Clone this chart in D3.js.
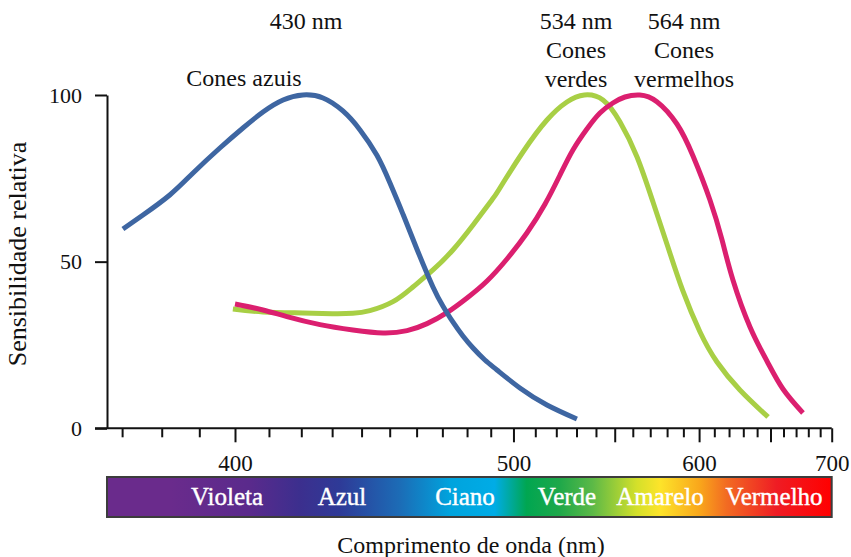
<!DOCTYPE html>
<html>
<head>
<meta charset="utf-8">
<script src="https://cdn.jsdelivr.net/npm/d3@7"></script>
<style>
  html, body { margin: 0; padding: 0; background: #fff; }
  svg { display: block; }
  text { font-family: "Liberation Serif", "Times New Roman", serif; fill: #111; }
</style>
</head>
<body>
<svg id="chart" width="851" height="557"></svg>
<script>
// Cone sensitivity curves: [wavelength (nm), relative sensitivity (%)]
const blueCones = [
  [370.2, 59.8], [375.2, 64.0], [382.1, 70.0], [388.3, 76.6], [395.7, 84.1],
  [402.3, 90.1], [408.2, 94.9], [414.3, 98.5], [420.5, 100.0], [427.0, 99.1],
  [433.6, 95.2], [439.4, 89.6], [445.4, 81.9], [450.1, 73.6], [454.9, 64.2],
  [460.1, 53.8], [466.3, 42.4], [470.2, 36.7], [474.2, 31.9], [478.3, 27.7],
  [482.5, 24.1], [487.5, 20.5], [492.7, 17.5], [502.9, 12.1], [515.5, 7.0],
  [530.2, 2.8]
];
const greenCones = [
  [399.4, 35.8], [408.2, 34.9], [420.5, 34.6], [430.0, 34.4], [437.0, 34.5],
  [442.9, 35.3], [451.2, 38.0], [458.6, 42.4], [466.3, 47.5], [474.2, 53.5],
  [482.5, 61.0], [490.5, 68.5], [494.0, 72.1], [504.3, 82.9], [515.5, 92.5],
  [525.2, 97.9], [534.0, 100.0], [543.7, 98.5], [552.9, 91.9], [562.4, 81.4],
  [571.6, 67.9], [580.5, 54.4], [589.7, 41.2], [600.6, 28.9], [611.8, 19.9],
  [627.6, 11.5], [648.1, 3.4]
];
const redCones = [
  [400.0, 37.3], [408.2, 35.5], [415.5, 33.5], [426.0, 31.1], [437.0, 29.5],
  [447.6, 28.6], [456.4, 29.3], [464.0, 31.4], [471.8, 34.7], [480.0, 39.1],
  [488.4, 44.2], [497.1, 50.8], [506.1, 58.6], [514.6, 67.3], [521.8, 76.0],
  [528.2, 83.5], [535.3, 89.8], [542.1, 94.6], [549.0, 97.6], [555.6, 99.4],
  [564.0, 100.0], [573.9, 98.0], [586.0, 91.3], [596.1, 81.7], [607.1, 68.5],
  [615.2, 56.5], [622.7, 44.5], [634.8, 30.4], [647.3, 20.2], [659.6, 11.8],
  [675.6, 4.6]
];

// Axis ticks
const majorTicks = [400, 500, 600, 700];
const longTicks = [550, 650];
const minorTicks = d3.range(370, 701, 10);
const yTicks = [0, 50, 100];

// Peak annotations
const peakWavelengths = [430, 534, 564];
const peakNames = [[], ["Cones", "verdes"], ["Cones", "vermelhos"]];
const peakLabelX = [306, 576, 684];

// Colour band underneath the axis
const bandNames = ["Violeta", "Azul", "Ciano", "Verde", "Amarelo", "Vermelho"];
const bandCenters = [227, 342, 465, 567, 660, 774];
const bandStops = [
  [0.000, "#6a2b8c"], [0.087, "#6a2b8c"], [0.197, "#5a2a8c"], [0.266, "#3c2f8e"],
  [0.321, "#2e3a97"], [0.404, "#1c6cb6"], [0.473, "#00a3dd"], [0.535, "#00ace6"],
  [0.579, "#00a651"], [0.625, "#1fa84a"], [0.670, "#5cb947"], [0.731, "#d4e02a"],
  [0.763, "#fde42a"], [0.818, "#f9a61b"], [0.855, "#f26b22"], [0.924, "#ef1c24"],
  [1.000, "#ff0000"]
];

const svg = d3.select("#chart");

// Horizontal scale is linear in 1/wavelength (energy), so spacing shrinks toward red
const invScale = d3.scaleLinear().domain([1 / 400, 1 / 700]).range([235, 831.7]);
const x = nm => invScale(1 / nm);
const y = d3.scaleLinear().domain([0, 100]).range([428.3, 95]);

const baseY = y(0);
const axisLeft = 107;

// x axis: base line, minor, long and major ticks
const gx = svg.append("g");
gx.append("line")
  .attr("x1", 95).attr("x2", x(700)).attr("y1", baseY).attr("y2", baseY)
  .attr("stroke", "#111").attr("stroke-width", 2);

const styleTicks = g => g.call(s => s.select(".domain").remove())
  .call(s => s.selectAll("line").attr("stroke", "#111").attr("stroke-width", 2));

const xAxisMinor = d3.axisBottom(d3.scaleIdentity())
  .tickValues(minorTicks.filter(t => !majorTicks.includes(t) && !longTicks.includes(t)).map(x))
  .tickSize(9).tickSizeOuter(0).tickFormat("");
gx.append("g").attr("transform", `translate(0,${baseY})`).call(xAxisMinor).call(styleTicks);

const xAxisLong = d3.axisBottom(d3.scaleIdentity())
  .tickValues(longTicks.map(x)).tickSize(14).tickSizeOuter(0).tickFormat("");
gx.append("g").attr("transform", `translate(0,${baseY})`).call(xAxisLong).call(styleTicks);

const xAxisMajor = d3.axisBottom(d3.scaleIdentity())
  .tickValues(majorTicks.map(x)).tickSize(14).tickSizeOuter(0)
  .tickFormat((d, i) => majorTicks[i]);
gx.append("g").attr("transform", `translate(0,${baseY})`).call(xAxisMajor).call(styleTicks)
  .call(g => g.selectAll("text")
    .attr("y", 0).attr("dy", null)
    .attr("transform", "translate(0,43)")
    .attr("font-size", 23).attr("fill", "#111")
    .style("font-family", "'Liberation Serif', serif"));

// y axis
const yAxis = d3.axisLeft(y).tickValues(yTicks).tickSize(12).tickSizeOuter(0).tickPadding(13);
svg.append("g").attr("transform", `translate(${axisLeft},0)`).call(yAxis)
  .call(g => g.select(".domain").attr("stroke", "#111").attr("stroke-width", 2))
  .call(g => g.selectAll("line").attr("stroke", "#111").attr("stroke-width", 2))
  .call(g => g.selectAll("text")
    .attr("font-size", 22).attr("fill", "#111")
    .style("font-family", "'Liberation Serif', serif"));

// Curves
const line = d3.line().x(d => x(d[0])).y(d => y(d[1])).curve(d3.curveNatural);
const series = [
  { data: greenCones, color: "#a8cf45" },
  { data: redCones, color: "#db1f6f" },
  { data: blueCones, color: "#3e66a2" }
];
svg.append("g").selectAll("path").data(series).join("path")
  .attr("d", d => line(d.data))
  .attr("fill", "none")
  .attr("stroke", d => d.color)
  .attr("stroke-width", 5)
  .attr("stroke-linecap", "butt");

// Annotations
const ann = svg.append("g").attr("font-size", 24).attr("text-anchor", "middle");
peakWavelengths.forEach((nm, k) => {
  [`${nm} nm`, ...peakNames[k]].forEach((t, i) => {
    ann.append("text").attr("x", peakLabelX[k]).attr("y", 29 + i * 29).text(t);
  });
});
ann.append("text").attr("x", 244).attr("y", 86).text("Cones azuis");

// Spectrum band
const defs = svg.append("defs");
const grad = defs.append("linearGradient").attr("id", "spectrum")
  .attr("x1", "0%").attr("x2", "100%").attr("y1", "0%").attr("y2", "0%");
grad.selectAll("stop").data(bandStops).join("stop")
  .attr("offset", d => d[0]).attr("stop-color", d => d[1]);

svg.append("rect")
  .attr("x", axisLeft).attr("y", 477).attr("width", x(700) - axisLeft).attr("height", 40)
  .attr("fill", "url(#spectrum)")
  .attr("stroke", "#3c3c3c").attr("stroke-width", 2);

svg.append("g").attr("font-size", 25).attr("text-anchor", "middle")
  .selectAll("text").data(bandNames).join("text")
  .attr("x", (d, i) => bandCenters[i]).attr("y", 505)
  .style("fill", "#fff")
  .style("stroke", "#fff").style("stroke-width", 0.4)
  .text(d => d);

// Axis titles
svg.append("text").attr("x", 471).attr("y", 553).attr("text-anchor", "middle")
  .attr("font-size", 24).text("Comprimento de onda (nm)");
svg.append("text").attr("transform", "translate(26,254) rotate(-90)")
  .attr("text-anchor", "middle").attr("font-size", 26).text("Sensibilidade relativa");
</script>
</body>
</html>
